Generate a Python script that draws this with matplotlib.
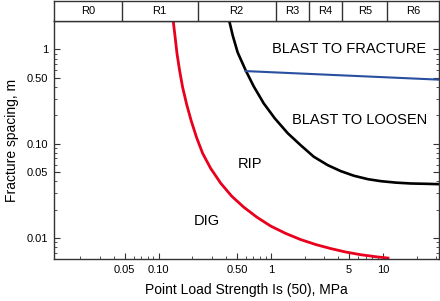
import matplotlib
matplotlib.use('Agg')
import matplotlib.pyplot as plt
from matplotlib.ticker import FixedLocator, FixedFormatter, NullFormatter
import numpy as np

plt.rcParams['font.family'] = ['Liberation Sans', 'DejaVu Sans']

# boundary curves (point load strength MPa, spacing m)
dig_rip_x = [0.135, 0.140, 0.146, 0.154, 0.164, 0.178, 0.195, 0.218, 0.247, 0.291, 0.358,
             0.449, 0.574, 0.750, 1.0, 1.36, 1.85, 2.52, 3.43, 4.67, 6.36, 8.66, 11.1]
dig_rip_y = [2.03, 1.41, 0.907, 0.600, 0.396, 0.262, 0.177, 0.117, 0.0793, 0.0550, 0.0382,
             0.0278, 0.0213, 0.0167, 0.0134, 0.0112, 0.00964, 0.00854, 0.00774, 0.00711,
             0.00666, 0.00634, 0.00614]

rip_blast_x = [0.426, 0.458, 0.507, 0.598, 0.705, 0.866, 1.086, 1.42, 1.85, 2.42, 3.23,
               4.22, 5.51, 7.35, 9.60, 13.1, 17.8, 24.2, 31.6]
rip_blast_y = [2.03, 1.41, 0.93, 0.60, 0.406, 0.268, 0.186, 0.129, 0.0964, 0.0728, 0.0592,
               0.0512, 0.0458, 0.0421, 0.0401, 0.0387, 0.0379, 0.0376, 0.0373]

fracture_x = [0.598, 31.6]
fracture_y = [0.589, 0.478]

# strength classes along the top
class_names = ['R0', 'R1', 'R2', 'R3', 'R4', 'R5', 'R6']
class_edges = [0.0117, 0.047, 0.223, 1.11, 2.18, 4.34, 10.9, 31.6]

region_labels = ['BLAST TO FRACTURE', 'BLAST TO LOOSEN', 'RIP', 'DIG']
region_x = [5.0, 6.15, 0.653, 0.272]
region_y = [1.0, 0.18, 0.0607, 0.0151]

x_major = [0.05, 0.1, 0.5, 1, 5, 10]
x_major_labels = ['0.05', '0.10', '0.50', '1', '5', '10']
y_major = [0.01, 0.05, 0.1, 0.5, 1]
y_major_labels = ['0.01', '0.05', '0.10', '0.50', '1']

fig = plt.figure(figsize=(4.4, 3.01), dpi=100)
ax = fig.add_axes([0.1227, 0.1395, 0.875, 0.7907])
band = fig.add_axes([0.1227, 0.9302, 0.875, 0.0665], sharex=ax)

edge = '#333333'
ax.set_xscale('log')
ax.set_yscale('log')
ax.set_xlim(class_edges[0], class_edges[-1])
ax.set_ylim(0.006, 2.0)

ax.plot(dig_rip_x, dig_rip_y, color='#e8001c', lw=2.0, solid_joinstyle='round')
ax.plot(rip_blast_x, rip_blast_y, color='black', lw=1.9, solid_joinstyle='round')
ax.plot(fracture_x, fracture_y, color='#2a4fa0', lw=1.5)

for lab, x, y in zip(region_labels, region_x, region_y):
    ax.text(x, y, lab, ha='center', va='center', fontsize=10.5)

ax.xaxis.set_major_locator(FixedLocator(x_major))
ax.xaxis.set_major_formatter(FixedFormatter(x_major_labels))
ax.xaxis.set_minor_formatter(NullFormatter())
ax.yaxis.set_major_locator(FixedLocator(y_major))
ax.yaxis.set_major_formatter(FixedFormatter(y_major_labels))
ax.yaxis.set_minor_formatter(NullFormatter())
ax.tick_params(which='both', direction='in', right=True, top=False,
               labelsize=8, color=edge, pad=4)
ax.tick_params(which='major', length=4)
ax.tick_params(which='minor', length=2.5)
for s in ax.spines.values():
    s.set_color(edge)
    s.set_linewidth(1.0)

ax.set_xlabel('Point Load Strength Is (50), MPa', fontsize=10, labelpad=6)
ax.set_ylabel('Fracture spacing, m', fontsize=10, labelpad=6)

# class band
band.set_ylim(0, 1)
band.tick_params(which='both', bottom=False, left=False, labelbottom=False, labelleft=False)
for s in band.spines.values():
    s.set_color(edge)
    s.set_linewidth(1.0)
for e in class_edges[1:-1]:
    band.axvline(e, color=edge, lw=1.0)
for i, name in enumerate(class_names):
    xc = np.sqrt(class_edges[i] * class_edges[i + 1])
    band.text(xc, 0.5, name, ha='center', va='center', fontsize=8)

fig.savefig('out.png', dpi=100)
